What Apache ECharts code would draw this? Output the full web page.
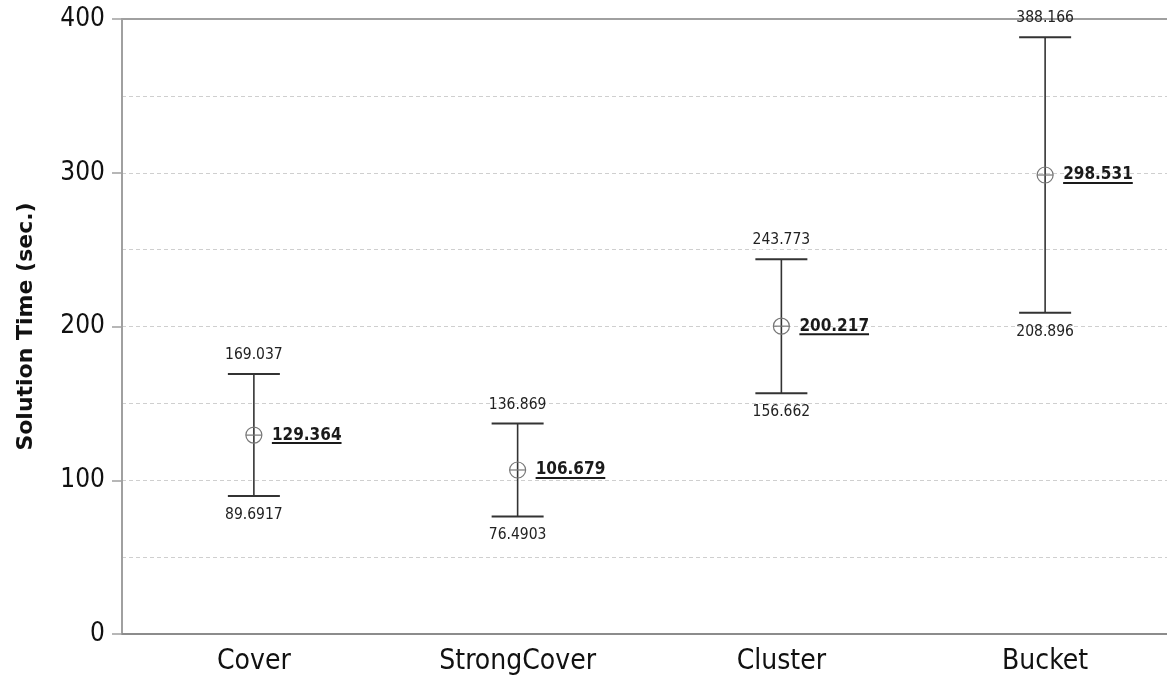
<!DOCTYPE html>
<html>
<head>
<meta charset="utf-8">
<script src="https://cdn.jsdelivr.net/npm/echarts@6/dist/echarts.min.js"></script>
<style>
  html, body { margin: 0; padding: 0; background: #fff; overflow: hidden; }
  #chart { width: 1180px; height: 679px; }
</style>
</head>
<body>
<div id="chart"></div>
<script>
// Mean solution time per algorithm with its interval bounds
const categories = ['Cover', 'StrongCover', 'Cluster', 'Bucket'];
const means = [129.364, 106.679, 200.217, 298.531];
const lows = [89.6917, 76.4903, 156.662, 208.896];
const highs = [169.037, 136.869, 243.773, 388.166];

const FONT = '"DejaVu Sans Condensed", "DejaVu Sans", sans-serif';
const TITLE_FONT = '"DejaVu Sans", sans-serif';
const measureCtx = document.createElement('canvas').getContext('2d');
function textWidth(str, font) {
  measureCtx.font = font;
  return measureCtx.measureText(str).width;
}

const seriesData = categories.map((c, i) => [i, lows[i], means[i], highs[i]]);

function renderInterval(params, api) {
  const idx = api.value(0);
  const lo = api.coord([idx, api.value(1)]);
  const mid = api.coord([idx, api.value(2)]);
  const hi = api.coord([idx, api.value(3)]);
  const x = mid[0];
  const capHalf = 26;
  const r = 8;
  const lineColor = '#333';
  const meanText = String(means[params.dataIndex]);
  const meanFont = 'bold 17px ' + FONT;
  const w = textWidth(meanText, meanFont);
  const labelX = x + 18;
  return {
    type: 'group',
    children: [
      { type: 'line', shape: { x1: x, y1: hi[1], x2: x, y2: lo[1] },
        style: { stroke: lineColor, lineWidth: 1.6 } },
      { type: 'line', shape: { x1: x - capHalf, y1: hi[1], x2: x + capHalf, y2: hi[1] },
        style: { stroke: lineColor, lineWidth: 2 } },
      { type: 'line', shape: { x1: x - capHalf, y1: lo[1], x2: x + capHalf, y2: lo[1] },
        style: { stroke: lineColor, lineWidth: 2 } },
      { type: 'circle', shape: { cx: x, cy: mid[1], r: r },
        style: { fill: 'rgba(255,255,255,0)', stroke: '#777', lineWidth: 1.2 } },
      { type: 'line', shape: { x1: x - r, y1: mid[1], x2: x + r, y2: mid[1] },
        style: { stroke: '#777', lineWidth: 1.2 } },
      { type: 'text', x: x, y: hi[1] - 19,
        style: { text: String(highs[params.dataIndex]), fill: '#222', font: '15.5px ' + FONT,
                 align: 'center', verticalAlign: 'middle' } },
      { type: 'text', x: x, y: lo[1] + 19,
        style: { text: String(lows[params.dataIndex]), fill: '#222', font: '15.5px ' + FONT,
                 align: 'center', verticalAlign: 'middle' } },
      { type: 'text', x: labelX, y: mid[1],
        style: { text: meanText, fill: '#1a1a1a', font: meanFont,
                 align: 'left', verticalAlign: 'middle' } },
      { type: 'line', shape: { x1: labelX, y1: mid[1] + 8, x2: labelX + w, y2: mid[1] + 8 },
        style: { stroke: '#1a1a1a', lineWidth: 2 } }
    ]
  };
}

const chart = echarts.init(document.getElementById('chart'), null, { renderer: 'canvas' });
chart.setOption({
  animation: false,
  backgroundColor: '#fff',
  grid: { left: 122, right: 3, top: 19, bottom: 45, containLabel: false },
  xAxis: [
    {
      type: 'category',
      data: categories,
      boundaryGap: true,
      axisLine: { lineStyle: { color: '#8c8c8c', width: 2 } },
      axisTick: { alignWithLabel: true, length: 7, lineStyle: { color: '#8c8c8c', width: 1.5 } },
      axisLabel: { fontFamily: FONT, fontSize: 28, color: '#111', margin: 14 },
      splitLine: { show: false }
    },
    {
      type: 'category',
      position: 'top',
      data: categories,
      axisLine: { lineStyle: { color: '#a0a0a0', width: 2 } },
      axisTick: { show: false },
      axisLabel: { show: false },
      splitLine: { show: false }
    }
  ],
  yAxis: {
    type: 'value',
    min: 0,
    max: 400,
    interval: 100,
    name: 'Solution Time (sec.)',
    nameLocation: 'middle',
    nameGap: 85,
    nameTextStyle: { fontFamily: TITLE_FONT, fontSize: 22, fontWeight: 'bold', color: '#111' },
    axisLine: { show: true, lineStyle: { color: '#a0a0a0', width: 2 } },
    axisTick: { show: true, length: 10, lineStyle: { color: '#a0a0a0', width: 1.5 } },
    axisLabel: { fontFamily: FONT, fontSize: 26, color: '#111', margin: 17 },
    splitLine: { show: true, lineStyle: { color: '#cfcfcf', type: [4, 3], width: 1 } },
    minorTick: { show: false, splitNumber: 2 },
    minorSplitLine: { show: true, lineStyle: { color: '#cfcfcf', type: [4, 3], width: 1 } }
  },
  series: [{
    type: 'custom',
    renderItem: renderInterval,
    encode: { x: 0, y: [1, 2, 3] },
    data: seriesData,
    clip: false,
    z: 5
  }]
});
</script>
</body>
</html>
